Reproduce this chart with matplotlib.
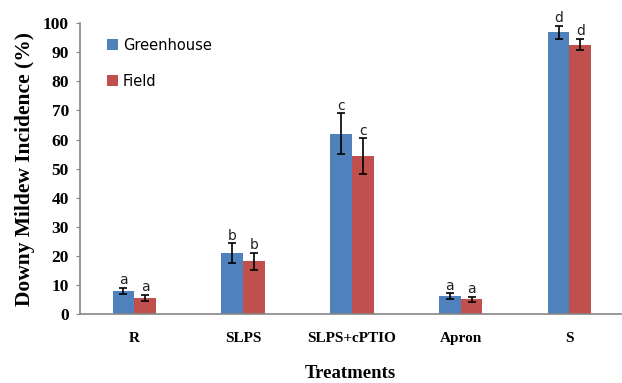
import matplotlib.pyplot as plt
import numpy as np

# data
treatments = ['R', 'SLPS', 'SLPS+cPTIO', 'Apron', 'S']
greenhouse = [8.0, 21.0, 62.0, 6.2, 96.8]
greenhouse_err = [1.1, 3.4, 7.0, 1.0, 2.3]
field = [5.7, 18.2, 54.2, 5.2, 92.6]
field_err = [1.0, 3.0, 6.2, 0.9, 2.0]
gh_letters = ['a', 'b', 'c', 'a', 'd']
field_letters = ['a', 'b', 'c', 'a', 'd']

blue = '#4F81BD'
red = '#C0504D'
axis_grey = '#868686'
serif = 'Liberation Serif'

fig = plt.figure(figsize=(6.22, 3.83), dpi=100)
ax = fig.add_axes([0.1286, 0.1794, 0.869, 0.7606])

x = np.arange(len(treatments))
w = 0.2
err_kw = dict(ecolor='black', elinewidth=1.2, capsize=2.8, capthick=1.2)
ax.bar(x - w/2, greenhouse, w, color=blue, yerr=greenhouse_err,
       error_kw=err_kw, label='Greenhouse', zorder=2)
ax.bar(x + w/2, field, w, color=red, yerr=field_err,
       error_kw=err_kw, label='Field', zorder=2)

#letters above the error bars
for i in range(len(x)):
    ax.annotate(gh_letters[i], (x[i] - w/2, greenhouse[i] + greenhouse_err[i]),
                xytext=(0, 0.5), textcoords='offset points', ha='center',
                va='bottom', fontsize=10, color='#222222')
    ax.annotate(field_letters[i], (x[i] + w/2, field[i] + field_err[i]),
                xytext=(0, 0.5), textcoords='offset points', ha='center',
                va='bottom', fontsize=10, color='#222222')

ax.set_xlim(-0.5, 4.47)
ax.set_ylim(0, 100)
ax.set_yticks(np.arange(0, 101, 10))
ax.set_xticks(x)
ax.set_xticklabels(treatments, family=serif, fontweight='bold', fontsize=11)
for lab in ax.get_yticklabels():
    lab.set_family(serif)
    lab.set_fontweight('bold')
    lab.set_fontsize(12.5)

ax.tick_params(axis='x', length=0, pad=13)
ax.tick_params(axis='y', length=3, color=axis_grey, direction='out', pad=5)
for side in ['top', 'right']:
    ax.spines[side].set_visible(False)
for side in ['left', 'bottom']:
    ax.spines[side].set_color(axis_grey)
    ax.spines[side].set_linewidth(1.2)

ax.set_ylabel('Downy Mildew Incidence (%)', family=serif, fontweight='bold',
              fontsize=15.5, labelpad=6)
ax.set_xlabel('Treatments', family=serif, fontweight='bold', fontsize=13.5,
              labelpad=14)

ax.legend(loc='upper left', bbox_to_anchor=(0.025, 0.995), frameon=False,
          fontsize=10.5, handlelength=0.75, handleheight=0.75, labelspacing=1.45,
          handletextpad=0.35)

plt.savefig('out.png', dpi=100)
